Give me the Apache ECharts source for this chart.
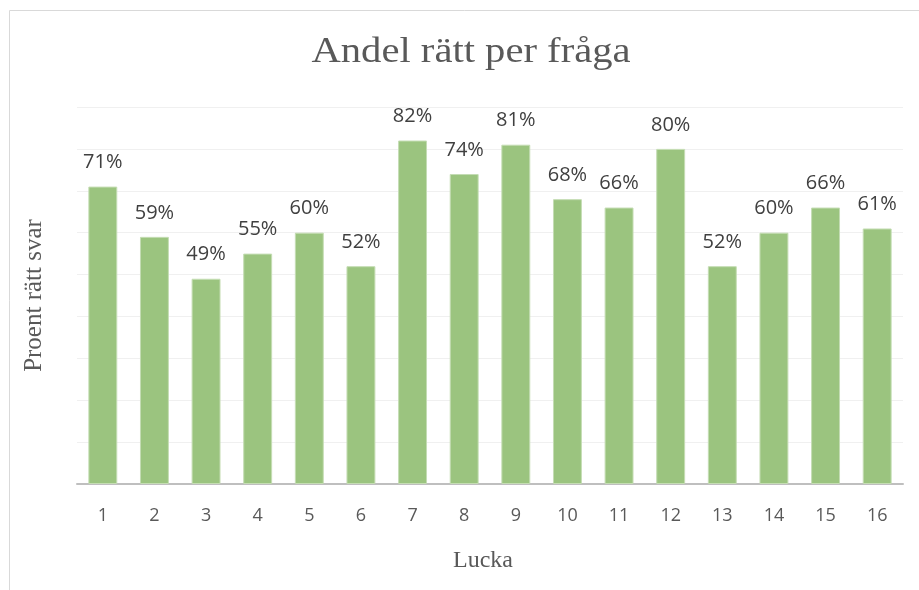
<!DOCTYPE html>
<html>
<head>
<meta charset="utf-8">
<script src="https://cdn.jsdelivr.net/npm/echarts@6/dist/echarts.min.js"></script>
<style>
  html, body { margin: 0; padding: 0; background: #fff; }
  #chart { width: 919px; height: 590px; }
</style>
</head>
<body>
<div id="chart"></div>
<script>
var chartTitle = 'Andel rätt per fråga';
var categories = ['1', '2', '3', '4', '5', '6', '7', '8', '9', '10', '11', '12', '13', '14', '15', '16'];
var andelRatt = [71, 59, 49, 55, 60, 52, 82, 74, 81, 68, 66, 80, 52, 60, 66, 61];

var serif = '"Liberation Serif", "DejaVu Serif", serif';
var sans = '"Open Sans", "Noto Sans", sans-serif';

var chart = echarts.init(document.getElementById('chart'));
chart.setOption({
    animation: false,
    graphic: [{
        type: 'rect',
        shape: {x: 9.5, y: 10.5, width: 940, height: 620},
        style: {fill: 'none', stroke: '#d9d9d9', lineWidth: 1}
    }, {
        // title drawn as text so it can be widened like the Excel rendering
        type: 'text',
        x: 471,
        y: 53,
        scaleX: 1.16,
        style: {
            text: chartTitle,
            font: '35px ' + serif,
            fill: '#595959',
            align: 'center',
            verticalAlign: 'middle'
        }
    }],
    grid: {left: 77, right: 16, top: 107, bottom: 106},
    xAxis: {
        type: 'category',
        data: categories,
        name: 'Lucka',
        nameLocation: 'middle',
        nameGap: 65,
        nameTextStyle: {fontFamily: serif, fontSize: 24, color: '#595959', padding: [0, 14, 0, 0]},
        axisLine: {lineStyle: {color: '#bfbfbf', width: 2}},
        axisTick: {show: false},
        axisLabel: {fontFamily: sans, fontSize: 18, color: '#595959', margin: 23}
    },
    yAxis: {
        type: 'value',
        min: 0,
        max: 90,
        interval: 10,
        name: 'Proent rätt svar',
        nameLocation: 'middle',
        nameGap: 30,
        nameTextStyle: {fontFamily: serif, fontSize: 25, color: '#595959'},
        axisLine: {show: false},
        axisTick: {show: false},
        axisLabel: {show: false},
        splitLine: {lineStyle: {color: '#f0f0f0', width: 1}}
    },
    series: [{
        type: 'bar',
        data: andelRatt,
        barWidth: '56%',
        itemStyle: {color: '#9bc47f', borderColor: '#c5ddb4', borderWidth: 1},
        label: {
            show: true,
            position: 'top',
            distance: 14,
            formatter: '{c}%',
            fontFamily: sans,
            fontSize: 20,
            color: '#404040'
        }
    }]
});
</script>
</body>
</html>
